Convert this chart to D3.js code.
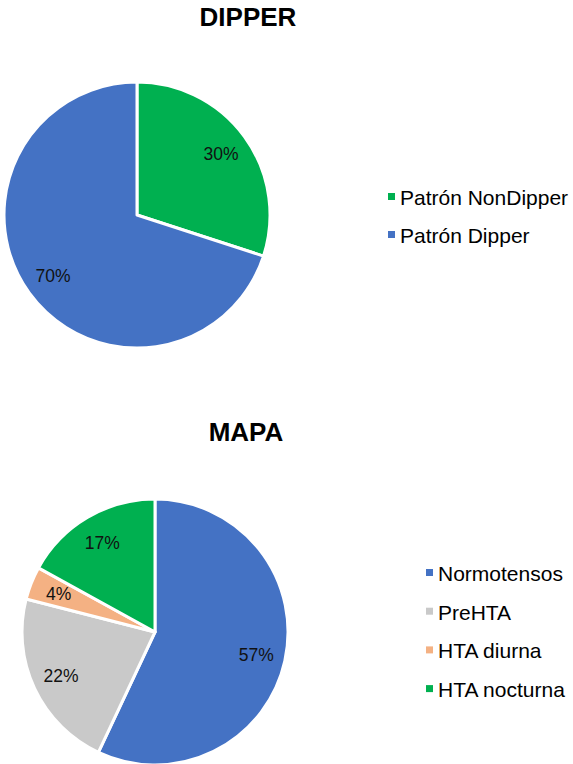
<!DOCTYPE html>
<html>
<head>
<meta charset="utf-8">
<script src="https://cdn.jsdelivr.net/npm/d3@7"></script>
<style>
  body { margin: 0; background: #fff; }
  svg { display: block; font-family: Arial, "Liberation Sans", sans-serif; }
</style>
</head>
<body>
<div id="chart"></div>
<script>
var width = 573,
    height = 764;

// DIPPER chart
var dipperLabels = ["Patrón NonDipper", "Patrón Dipper"];
var dipperValues = [30, 70];
var dipperColors = ["#00B050", "#4472C4"];

// MAPA chart
var mapaLabels = ["Normotensos", "PreHTA", "HTA diurna", "HTA nocturna"];
var mapaValues = [57, 22, 4, 17];
var mapaColors = ["#4472C4", "#C9C9C9", "#F4B183", "#00B050"];

const svg = d3.select("#chart").append("svg")
    .attr("width", width)
    .attr("height", height);

function pieChart(opts) {
    var data = opts.labels.map((l, i) => ({ label: l, value: opts.values[i] }));
    var color = d3.scaleOrdinal().domain(opts.labels).range(opts.colors);
    var radius = 133;

    svg.append("text")
        .attr("x", opts.titleX)
        .attr("y", opts.titleY)
        .attr("text-anchor", "middle")
        .attr("font-weight", "bold")
        .attr("font-size", 26)
        .attr("fill", "#000")
        .text(opts.title);

    var pie = d3.pie().sort(null).value(d => d.value);
    var arc = d3.arc().innerRadius(0).outerRadius(radius);
    var labelArc = d3.arc().innerRadius(radius * 0.78).outerRadius(radius * 0.78);

    const g = svg.append("g")
        .attr("transform", `translate(${opts.cx},${opts.cy})`);

    const arcs = pie(data);

    g.selectAll("path")
        .data(arcs)
        .join("path")
        .attr("d", arc)
        .attr("fill", d => color(d.data.label))
        .attr("stroke", "#fff")
        .attr("stroke-width", 3)
        .attr("stroke-linejoin", "round");

    g.selectAll("text")
        .data(arcs)
        .join("text")
        .attr("transform", d => `translate(${labelArc.centroid(d)})`)
        .attr("dy", "0.35em")
        .attr("text-anchor", "middle")
        .attr("font-size", 17.5)
        .attr("fill", "#111")
        .text(d => d.data.value + "%");

    const leg = svg.append("g")
        .attr("transform", `translate(${opts.legX},${opts.legY})`)
        .selectAll("g")
        .data(opts.labels)
        .join("g")
        .attr("transform", (d, i) => `translate(0,${i * opts.legStep})`);

    leg.append("rect")
        .attr("x", 0)
        .attr("y", -12)
        .attr("width", 7)
        .attr("height", 7)
        .attr("fill", d => color(d));

    leg.append("text")
        .attr("x", 12)
        .attr("y", 0)
        .attr("font-size", 21)
        .attr("fill", "#000")
        .text(d => d);
}

pieChart({
    title: "DIPPER", titleX: 248, titleY: 26,
    labels: dipperLabels, values: dipperValues, colors: dipperColors,
    cx: 137, cy: 215,
    legX: 388, legY: 205, legStep: 38
});

pieChart({
    title: "MAPA", titleX: 246, titleY: 441,
    labels: mapaLabels, values: mapaValues, colors: mapaColors,
    cx: 155, cy: 632,
    legX: 426, legY: 581, legStep: 38.7
});
</script>
</body>
</html>
